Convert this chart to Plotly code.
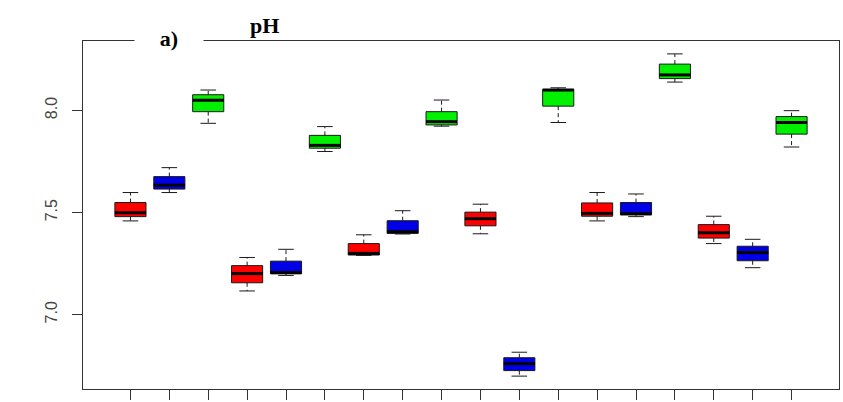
import plotly.graph_objects as go

# Five-number summaries of pH, one box per sample (18 samples)
positions = list(range(1, 19))
lower  = [7.459, 7.598, 7.937, 7.116, 7.192, 7.799, 7.290, 7.395, 7.923,
          7.396, 6.699, 7.941, 7.459, 7.480, 8.139, 7.348, 7.230, 7.821]
q1     = [7.480, 7.615, 7.994, 7.156, 7.200, 7.815, 7.292, 7.398, 7.929,
          7.435, 6.726, 8.021, 7.482, 7.489, 8.156, 7.375, 7.264, 7.884]
median = [7.499, 7.634, 8.050, 7.201, 7.206, 7.829, 7.300, 7.406, 7.945,
          7.470, 6.760, 8.100, 7.496, 7.494, 8.174, 7.401, 7.304, 7.941]
q3     = [7.549, 7.676, 8.077, 7.240, 7.262, 7.878, 7.348, 7.460, 7.994,
          7.502, 6.789, 8.103, 7.547, 7.549, 8.227, 7.441, 7.335, 7.970]
upper  = [7.598, 7.720, 8.100, 7.280, 7.320, 7.921, 7.391, 7.509, 8.051,
          7.541, 6.816, 8.111, 7.598, 7.591, 8.277, 7.482, 7.369, 7.999]
fill_cycle = ["#FF0000", "#0000E6", "#00F000"]
y_ticks = [7.0, 7.5, 8.0]
y_tick_text = ["7.0", "7.5", "8.0"]

BOX_W = 0.8
CAP_W = 0.4
INK = "#1a1a1a"

fig = go.Figure()

# Boxes (Q1..Q3) as floating bars, one trace per fill colour
for k, col in enumerate(fill_cycle):
    idx = [i for i in range(len(positions)) if i % 3 == k]
    fig.add_trace(go.Bar(
        x=[positions[i] for i in idx],
        base=[q1[i] for i in idx],
        y=[q3[i] - q1[i] for i in idx],
        width=BOX_W,
        marker=dict(color=col, line=dict(color=INK, width=1)),
        hoverinfo="skip", showlegend=False,
    ))

# Dashed whiskers, solid staples, thick medians
wx, wy, cx, cy, mx, my = [], [], [], [], [], []
for p, lo, a, m, b, hi in zip(positions, lower, q1, median, q3, upper):
    wx += [p, p, None, p, p, None]
    wy += [b, hi, None, a, lo, None]
    cx += [p - CAP_W / 2, p + CAP_W / 2, None, p - CAP_W / 2, p + CAP_W / 2, None]
    cy += [hi, hi, None, lo, lo, None]
    mx += [p - BOX_W / 2, p + BOX_W / 2, None]
    my += [m, m, None]

fig.add_trace(go.Scatter(x=wx, y=wy, mode="lines",
                         line=dict(color=INK, width=1, dash="4px,3px"),
                         hoverinfo="skip", showlegend=False))
fig.add_trace(go.Scatter(x=cx, y=cy, mode="lines",
                         line=dict(color=INK, width=1),
                         hoverinfo="skip", showlegend=False))
fig.add_trace(go.Scatter(x=mx, y=my, mode="lines",
                         line=dict(color="#000000", width=3),
                         hoverinfo="skip", showlegend=False))

# R-style axis limits: 4% padding around the data
ymin, ymax = min(lower), max(upper)
pad = 0.04 * (ymax - ymin)
xlo, xhi = 0.5, len(positions) + 0.5
xpad = 0.04 * (xhi - xlo)

fig.update_layout(
    width=843, height=402,
    margin=dict(l=83, r=3, t=41, b=7),
    paper_bgcolor="white", plot_bgcolor="white",
    barmode="overlay",
    showlegend=False,
    xaxis=dict(range=[xlo - xpad, xhi + xpad], tickvals=positions,
               showticklabels=False, ticks="outside", ticklen=10,
               tickcolor="#333333", showgrid=False, zeroline=False,
               showline=True, mirror=True, linecolor="#333333", linewidth=1.2),
    yaxis=dict(range=[ymin - pad, ymax + pad], tickvals=y_ticks,
               ticktext=y_tick_text, tickangle=-90,
               ticks="outside", ticklen=10, tickcolor="#333333",
               ticklabelstandoff=9,
               tickfont=dict(family="Liberation Sans", size=16, color="#444444"),
               showgrid=False, zeroline=False,
               showline=True, mirror=True, linecolor="#333333", linewidth=1.2),
)

fig.add_annotation(
    text="<b>a)</b>", xref="paper", yref="paper", x=0.1136, y=1.01,
    xanchor="center", yanchor="middle", showarrow=False,
    width=64, height=26, borderpad=2, bgcolor="white",
    font=dict(family="Liberation Serif", size=22, color="#000000"),
)
fig.add_annotation(
    text="<b>pH</b>", xref="paper", yref="paper", x=0.240, y=1.045,
    xanchor="center", yanchor="middle", showarrow=False,
    font=dict(family="Liberation Serif", size=22, color="#000000"),
)

fig.write_html("out.html")
